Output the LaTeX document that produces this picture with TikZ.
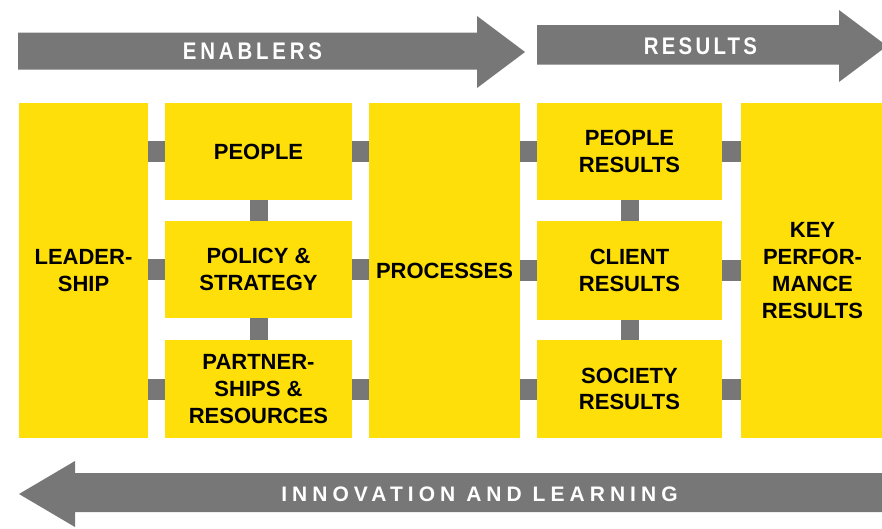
\documentclass[tikz,border=0pt]{standalone}
\usepackage{fontspec}
\setmainfont{Liberation Sans}
\definecolor{ybox}{RGB}{255,223,10}
\definecolor{gconn}{RGB}{119,119,119}
\begin{document}
\begin{tikzpicture}[x=1pt,y=-1pt,
  box/.style={fill=ybox, draw=none, inner sep=0pt, align=center,
    font=\fontsize{22}{26.7}\selectfont\bfseries},
  hconn/.style={draw=gconn, line width=21pt},
  vconn/.style={draw=gconn, line width=18pt},
  bigarrow/.style={fill=gconn, draw=none},
  arrowtext/.style={text=white, inner sep=0pt}
]
\useasboundingbox (0,0) rectangle (882,528);

% big arrows
\fill[bigarrow] (18,32.5) -- (477,32.5) -- (477,16) -- (525,52) -- (477,88) -- (477,69.5) -- (18,69.5) -- cycle;
\fill[bigarrow] (537,25) -- (839,25) -- (839,10) -- (887,46) -- (839,82) -- (839,64.5) -- (537,64.5) -- cycle;
\fill[bigarrow] (19,494) -- (75,461) -- (75,473) -- (890,473) -- (890,512) -- (75,512) -- (75,527) -- cycle;

\node[arrowtext, font=\fontsize{24}{28}\selectfont\bfseries\addfontfeatures{FakeStretch=0.85,LetterSpace=16}] (enab) at (252.5,51.5) {ENABLERS};
\node[arrowtext, font=\fontsize{24}{28}\selectfont\bfseries\addfontfeatures{FakeStretch=0.85,LetterSpace=13.5}] (res) at (700.5,46.5) {RESULTS};
\node[arrowtext, font=\fontsize{21}{26}\selectfont\bfseries\addfontfeatures{LetterSpace=24}] (innov) at (479.5,494.5) {INNOVATION AND LEARNING};

% boxes
\node[box, minimum width=129pt, minimum height=335pt] (lead) at (83.5,270.5) {LEADER-\\SHIP};
\node[box, minimum width=187pt, minimum height=97pt] (people) at (258.5,151.5) {PEOPLE};
\node[box, minimum width=187pt, minimum height=97pt] (policy) at (258.5,269.5) {POLICY \&\\STRATEGY};
\node[box, minimum width=187pt, minimum height=98pt] (partner) at (258.5,389) {PARTNER-\\SHIPS \&\\RESOURCES};
\node[box, minimum width=151pt, minimum height=335pt] (proc) at (444.5,270.5) {PROCESSES};
\node[box, minimum width=185pt, minimum height=97pt] (presults) at (629.5,151.5) {PEOPLE\\RESULTS};
\node[box, minimum width=185pt, minimum height=99pt] (cresults) at (629.5,270.5) {CLIENT\\RESULTS};
\node[box, minimum width=185pt, minimum height=98pt] (sresults) at (629.5,389) {SOCIETY\\RESULTS};
\node[box, minimum width=143pt, minimum height=335pt] (kpr) at (812.5,270.5) {KEY\\PERFOR-\\MANCE\\RESULTS};

% connectors
\draw[hconn] (lead.east |- people.center) -- (people.west);
\draw[hconn] (lead.east |- policy.center) -- (policy.west);
\draw[hconn] (lead.east |- partner.center) -- (partner.west);
\draw[hconn] (people.east) -- (proc.west |- people.center);
\draw[hconn] (policy.east) -- (proc.west |- policy.center);
\draw[hconn] (partner.east) -- (proc.west |- partner.center);
\draw[vconn] (people.south) -- (policy.north);
\draw[vconn] (policy.south) -- (partner.north);
\draw[hconn] (proc.east |- presults.center) -- (presults.west);
\draw[hconn] (proc.east |- cresults.center) -- (cresults.west);
\draw[hconn] (proc.east |- sresults.center) -- (sresults.west);
\draw[hconn] (presults.east) -- (kpr.west |- presults.center);
\draw[hconn] (cresults.east) -- (kpr.west |- cresults.center);
\draw[hconn] (sresults.east) -- (kpr.west |- sresults.center);
\draw[vconn] (presults.south) -- (cresults.north);
\draw[vconn] (cresults.south) -- (sresults.north);
\end{tikzpicture}
\end{document}
